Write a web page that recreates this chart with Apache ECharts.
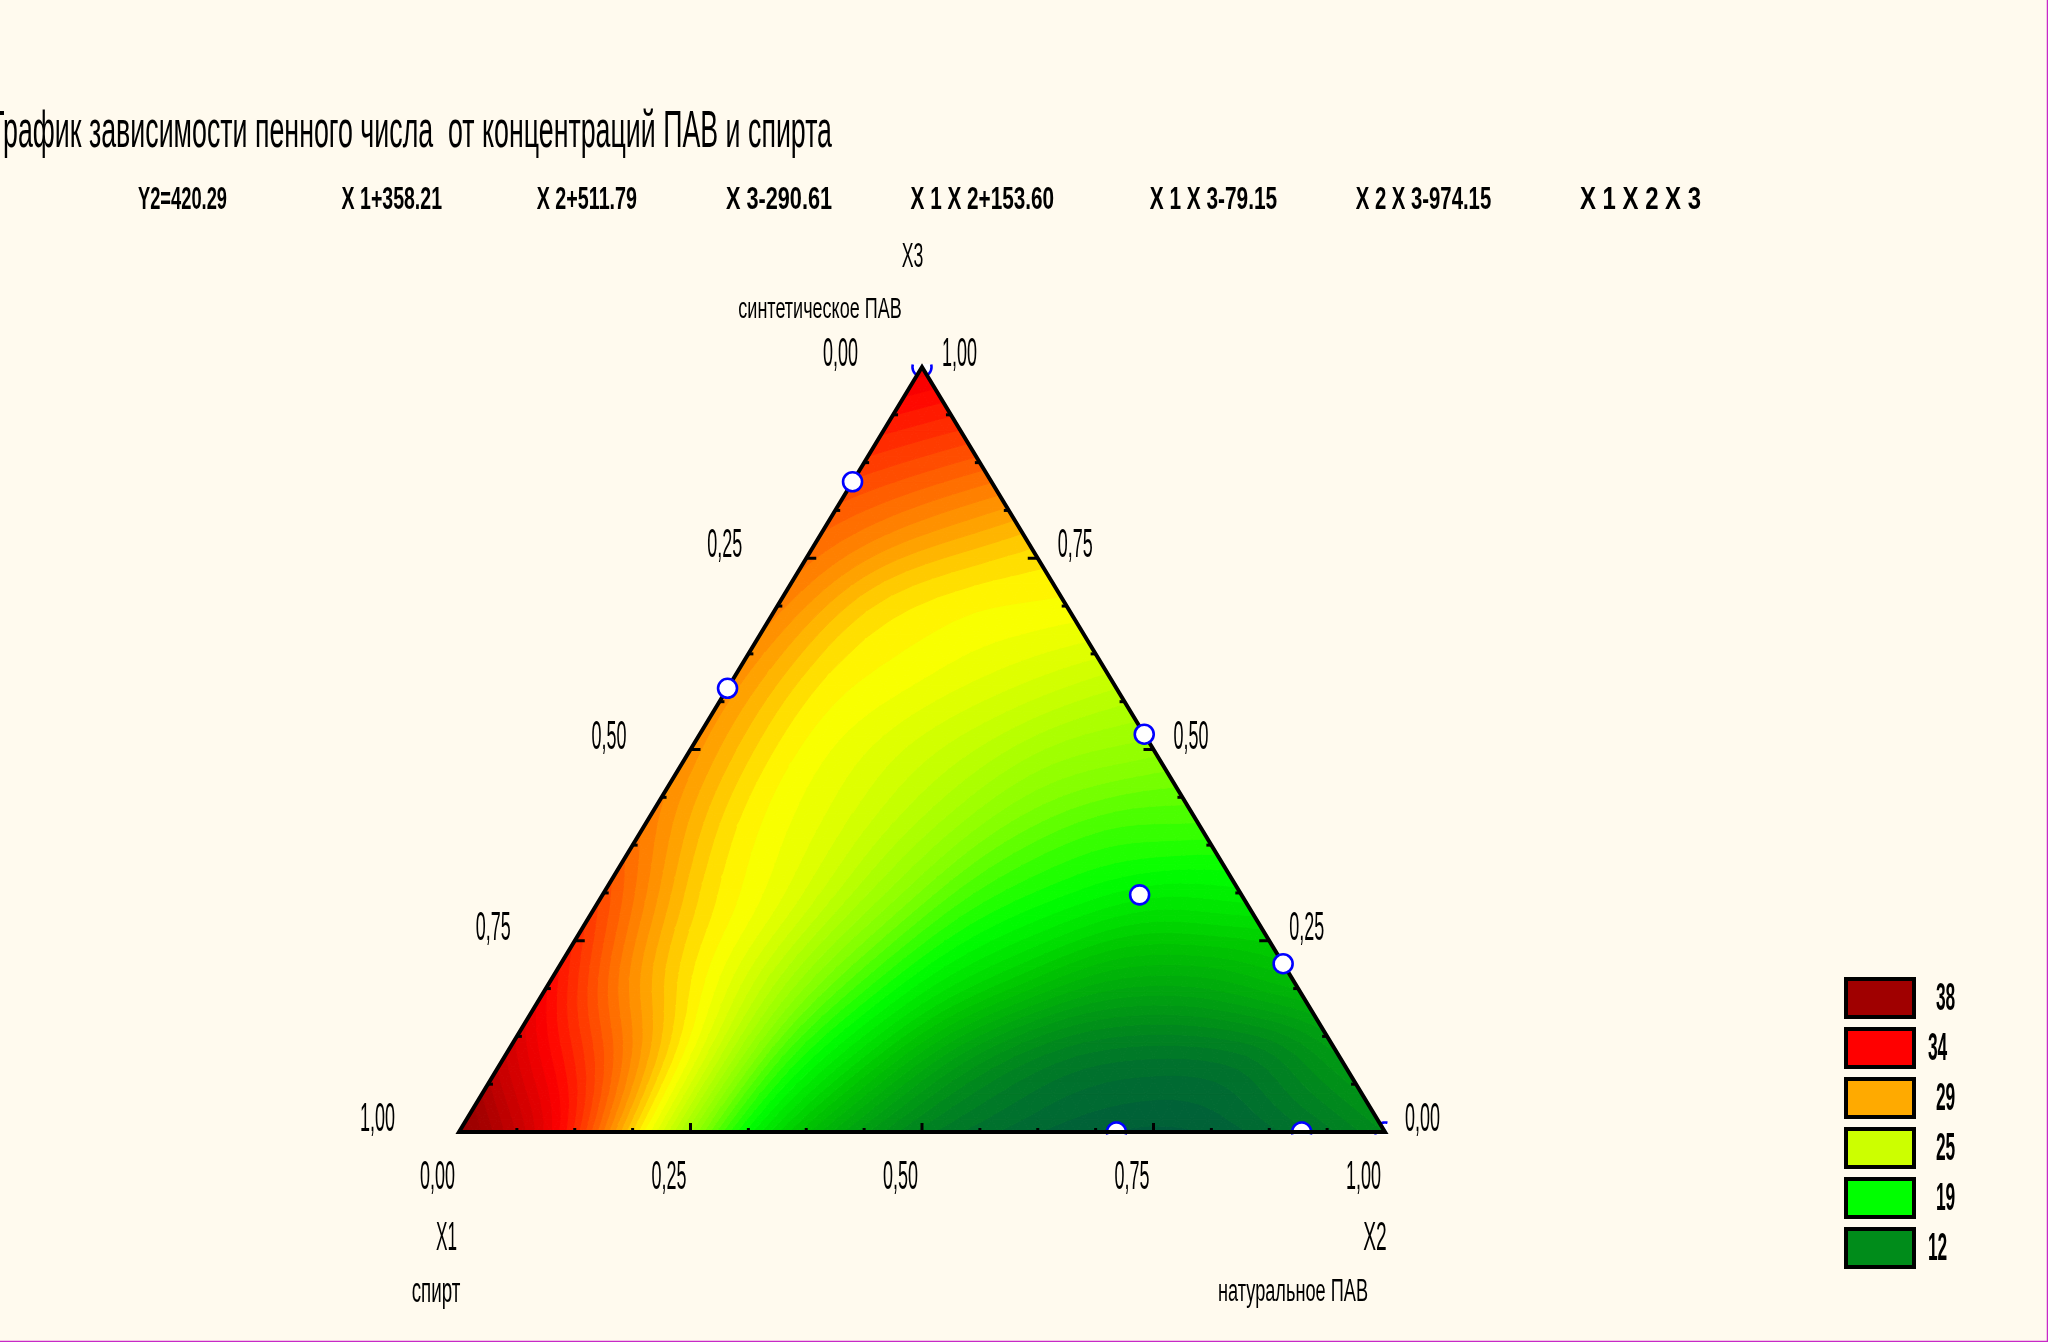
<!DOCTYPE html>
<html>
<head>
<meta charset="utf-8">
<script src="https://cdn.jsdelivr.net/npm/echarts@6/dist/echarts.min.js"></script>
<style>
html,body{margin:0;padding:0;background:#fffaee;}
#c{width:2048px;height:1342px;}
</style>
</head>
<body>
<div id="c"></div>
<script>
// ---------------- DATA ----------------
const titleText = 'График зависимости пенного числа  от концентраций ПАВ и спирта';
const equationTerms = ['Y2=420.29', 'X 1+358.21', 'X 2+511.79', 'X 3-290.61', 'X 1 X 2+153.60', 'X 1 X 3-79.15', 'X 2 X 3-974.15', 'X 1 X 2 X 3'];
const tickValues = [0, 0.25, 0.5, 0.75, 1];
const tickLabels = ['0,00', '0,25', '0,50', '0,75', '1,00'];
const axisNames = ['X1', 'X2', 'X3'];
const componentNames = ['спирт', 'натуральное ПАВ', 'синтетическое ПАВ'];
const legendValues = [38, 34, 29, 25, 19, 12];

// Foam number on a 0.1 mixture grid.
// One row per X3 level (0 ... 1); inside a row X2 = 0, 0.1, ...; X1 = 1 - X2 - X3.
const resp_x3_00 = [39.0, 34.5, 27.0, 19.5, 14.6, 11.3, 9.8, 9.0, 9.0, 10.2, 12.0];
const resp_x3_01 = [36.0, 31.8, 26.5, 20.5, 16.6, 13.2, 11.2, 10.6, 11.0, 13.0];
const resp_x3_02 = [33.8, 29.3, 25.8, 21.8, 18.6, 16.4, 14.6, 14.4, 15.4];
const resp_x3_03 = [32.0, 28.2, 25.9, 23.0, 20.3, 18.8, 17.8, 18.0];
const resp_x3_04 = [30.4, 27.5, 25.8, 23.8, 21.8, 20.6, 20.4];
const resp_x3_05 = [29.8, 27.3, 25.9, 24.6, 23.3, 22.7];
const resp_x3_06 = [29.8, 27.5, 26.6, 25.8, 25.0];
const resp_x3_07 = [30.3, 28.2, 27.3, 27.0];
const resp_x3_08 = [31.2, 30.0, 29.0];
const resp_x3_09 = [32.8, 32.0];
const resp_x3_10 = [34.8];

// Experimental design points (mixture fractions)
const pointsX1 = [0.15, 0.42, 0.00, 0.11, 0.00, 0.29, 0.09];
const pointsX2 = [0.00, 0.00, 0.48, 0.58, 0.78, 0.71, 0.91];
const pointsX3 = [0.85, 0.58, 0.52, 0.31, 0.22, 0.00, 0.00];
const vertexPointsX1 = [0, 0];
const vertexPointsX2 = [0, 1];
const vertexPointsX3 = [1, 0];

// ---------------- STYLE ----------------
const FONT = '"Liberation Sans", Arial, "DejaVu Sans", sans-serif';
const BG = '#fffaee';
const legendColors = ['#a00000', '#ff0000', '#ffaa00', '#ccff00', '#00ff00', '#008c1a'];
const colorStops = [
  [6, '#003f44'], [9, '#005e3a'], [12, '#008c1a'], [16, '#00c400'], [19, '#00ff00'],
  [22, '#80ff00'], [25, '#ccff00'], [27, '#ffff00'], [29, '#ffaa00'], [31.5, '#ff5500'],
  [34, '#ff0000'], [38, '#a00000'], [42, '#800000']
];
const BAND = 0.5;   // contour step
const SUB = 6;      // drawing subdivisions per grid triangle

function hexToRgb(h) { return [parseInt(h.substr(1, 2), 16), parseInt(h.substr(3, 2), 16), parseInt(h.substr(5, 2), 16)]; }
const stopRgb = colorStops.map(s => [s[0], hexToRgb(s[1])]);
function colorAt(v) {
  v = Math.max(stopRgb[0][0], Math.min(stopRgb[stopRgb.length - 1][0], v));
  for (let i = 0; i < stopRgb.length - 1; i++) {
    const a = stopRgb[i], b = stopRgb[i + 1];
    if (v >= a[0] && v <= b[0]) {
      const t = (v - a[0]) / (b[0] - a[0]);
      const c = a[1].map((x, k) => Math.round(x + t * (b[1][k] - x)));
      return 'rgb(' + c.join(',') + ')';
    }
  }
  return '#000';
}

const mctx = document.createElement('canvas').getContext('2d');
function fitScale(text, size, target, weight) {
  mctx.font = (weight || 'normal') + ' ' + size + 'px ' + FONT;
  return target / mctx.measureText(text).width;
}
function txt(text, x, y, size, width, align, weight) {
  return {
    type: 'text', x: x, y: y, scaleX: fitScale(text, size, width, weight),
    style: { text: text, fontSize: size, fontFamily: FONT, fontWeight: weight || 'normal', fill: '#000', align: align || 'center', verticalAlign: 'middle' }
  };
}

// ---------------- BUILD ----------------
const responseRows = [resp_x3_00, resp_x3_01, resp_x3_02, resp_x3_03, resp_x3_04, resp_x3_05, resp_x3_06, resp_x3_07, resp_x3_08, resp_x3_09, resp_x3_10];
// ternary (X2, X3) -> cartesian (x2 + x3/2, x3)
function node(k, j) { const x3 = k / 10, x2 = j / 10; return [x2 + x3 / 2, x3, responseRows[k][j]]; }
const surfaceData = [];
for (let k = 0; k < 10; k++) {
  for (let j = 0; j <= 9 - k; j++) {
    surfaceData.push([].concat(node(k, j), node(k, j + 1), node(k + 1, j)));
    if (j <= 8 - k) surfaceData.push([].concat(node(k, j + 1), node(k + 1, j + 1), node(k + 1, j)));
  }
}
function toCart(x2s, x3s, filter) {
  const out = [];
  x2s.forEach((x2, i) => { if (!filter || filter(i)) out.push([x2 + x3s[i] / 2, x3s[i]]); });
  return out;
}
const innerPointData = toCart(pointsX2, pointsX3, i => pointsX3[i] > 0);
const basePointData = toCart(pointsX2, pointsX3, i => pointsX3[i] === 0);
const vertexPointData = toCart(vertexPointsX2, vertexPointsX3);

// ---- smooth shading between grid nodes (Catmull-Rom, for drawing only) ----
const ghost = new Map();
function gv(k, j) {
  if (k >= 0 && j >= 0 && j + k <= 10) return responseRows[k][j];
  const key = k + ',' + j;
  if (ghost.has(key)) return ghost.get(key);
  let v;
  if (j < 0) v = 2 * gv(k, j + 1) - gv(k, j + 2);
  else if (k < 0) v = 2 * gv(k + 1, j) - gv(k + 2, j);
  else if (k <= 9) v = 2 * gv(k, j - 1) - gv(k, j - 2);
  else v = 2 * gv(k - 1, j) - gv(k - 2, j);
  ghost.set(key, v);
  return v;
}
function cr(p0, p1, p2, p3, t) {
  return 0.5 * (2 * p1 + (-p0 + p2) * t + (2 * p0 - 5 * p1 + 4 * p2 - p3) * t * t + (-p0 + 3 * p1 - 3 * p2 + p3) * t * t * t);
}
function smoothValue(jf, kf) {
  jf = Math.max(0, jf); kf = Math.max(0, kf);
  const k0 = Math.min(Math.floor(kf + 1e-9), 9), tk = kf - k0;
  const j0 = Math.min(Math.floor(jf + 1e-9), 9), tj = jf - j0;
  const rv = [];
  for (let m = -1; m <= 2; m++) {
    const k = k0 + m;
    rv.push(cr(gv(k, j0 - 1), gv(k, j0), gv(k, j0 + 1), gv(k, j0 + 2), tj));
  }
  return cr(rv[0], rv[1], rv[2], rv[3], tk);
}

function clipHalf(poly, t, above) {
  const res = [];
  const n = poly.length;
  for (let i = 0; i < n; i++) {
    const A = poly[i], B = poly[(i + 1) % n];
    const ina = above ? A[2] >= t : A[2] <= t;
    const inb = above ? B[2] >= t : B[2] <= t;
    if (ina) res.push(A);
    if (ina !== inb) {
      const s = (t - A[2]) / (B[2] - A[2]);
      res.push([A[0] + s * (B[0] - A[0]), A[1] + s * (B[1] - A[1]), t]);
    }
  }
  return res;
}
function bandPolys(P, out) {
  const vs = P.map(p => p[2]);
  const vmin = Math.min.apply(null, vs), vmax = Math.max.apply(null, vs);
  const b0 = Math.floor(vmin / BAND);
  for (let b = b0; b * BAND < vmax || b === b0; b++) {
    const lo = b * BAND, hi = (b + 1) * BAND;
    let poly = clipHalf(P, lo, true);
    if (poly.length >= 3) poly = clipHalf(poly, hi, false);
    if (poly.length < 3) continue;
    const col = colorAt(lo + BAND / 2);
    out.push({ type: 'polygon', shape: { points: poly.map(p => [p[0], p[1]]) }, style: { fill: col, stroke: col, lineWidth: 1 } });
  }
}

function renderSurface(params, api) {
  const C = [0, 1, 2].map(i => [api.value(i * 3), api.value(i * 3 + 1), api.value(i * 3 + 2)]);
  const nodes = {};
  for (let a = 0; a <= SUB; a++) {
    for (let b = 0; a + b <= SUB; b++) {
      const w1 = a / SUB, w2 = b / SUB, w0 = 1 - w1 - w2;
      const X = w0 * C[0][0] + w1 * C[1][0] + w2 * C[2][0];
      const Y = w0 * C[0][1] + w1 * C[1][1] + w2 * C[2][1];
      const px = api.coord([X, Y]);
      let v;
      if (a === 0 && b === 0) v = C[0][2];
      else if (a === SUB) v = C[1][2];
      else if (b === SUB) v = C[2][2];
      else v = smoothValue(10 * (X - Y / 2), 10 * Y);
      nodes[a + '_' + b] = [px[0], px[1], v];
    }
  }
  const children = [];
  for (let a = 0; a < SUB; a++) {
    for (let b = 0; a + b < SUB; b++) {
      bandPolys([nodes[a + '_' + b], nodes[(a + 1) + '_' + b], nodes[a + '_' + (b + 1)]], children);
      if (a + b <= SUB - 2) bandPolys([nodes[(a + 1) + '_' + b], nodes[(a + 1) + '_' + (b + 1)], nodes[a + '_' + (b + 1)]], children);
    }
  }
  return { type: 'group', children: children };
}

// design point marker, cut by the plot rectangle like the original
function clipRect(poly, r) {
  const edges = [p => p[0] >= r.x0, p => p[0] <= r.x1, p => p[1] >= r.y0, p => p[1] <= r.y1];
  const inter = [
    (A, B) => { const s = (r.x0 - A[0]) / (B[0] - A[0]); return [r.x0, A[1] + s * (B[1] - A[1])]; },
    (A, B) => { const s = (r.x1 - A[0]) / (B[0] - A[0]); return [r.x1, A[1] + s * (B[1] - A[1])]; },
    (A, B) => { const s = (r.y0 - A[1]) / (B[1] - A[1]); return [A[0] + s * (B[0] - A[0]), r.y0]; },
    (A, B) => { const s = (r.y1 - A[1]) / (B[1] - A[1]); return [A[0] + s * (B[0] - A[0]), r.y1]; }
  ];
  let out = poly;
  for (let e = 0; e < 4; e++) {
    const res = [];
    for (let i = 0; i < out.length; i++) {
      const A = out[i], B = out[(i + 1) % out.length];
      const ia = edges[e](A), ib = edges[e](B);
      if (ia) res.push(A);
      if (ia !== ib) res.push(inter[e](A, B));
    }
    out = res;
    if (!out.length) break;
  }
  return out;
}
function renderPoint(params, api) {
  const c = api.coord([api.value(0), api.value(1)]);
  const tl = api.coord([0, 1]), br = api.coord([1, 0]);
  const rect = { x0: tl[0] - 4, x1: br[0] + 3, y0: tl[1] - 3, y1: br[1] + 3 };
  const R = 9.5;
  const st = { stroke: '#0000ff', lineWidth: 2.6 };
  if (c[0] - R >= rect.x0 && c[0] + R <= rect.x1 && c[1] - R >= rect.y0 && c[1] + R <= rect.y1) {
    return { type: 'circle', shape: { cx: c[0], cy: c[1], r: R }, style: { fill: '#ffffff', stroke: st.stroke, lineWidth: st.lineWidth } };
  }
  const N = 72, ring = [];
  for (let i = 0; i < N; i++) { const a = i / N * Math.PI * 2; ring.push([c[0] + R * Math.cos(a), c[1] + R * Math.sin(a)]); }
  const ch = [];
  const fillPoly = clipRect(ring, rect);
  if (fillPoly.length >= 3) ch.push({ type: 'polygon', shape: { points: fillPoly }, style: { fill: '#ffffff' } });
  const inside = p => p[0] >= rect.x0 && p[0] <= rect.x1 && p[1] >= rect.y0 && p[1] <= rect.y1;
  let start = ring.findIndex(p => !inside(p));
  if (start < 0) start = 0;
  let run = [];
  for (let k = 1; k <= N + 1; k++) {
    const p = ring[(start + k) % N];
    if (inside(p)) run.push(p);
    else { if (run.length > 1) ch.push({ type: 'polyline', shape: { points: run }, style: { fill: null, stroke: st.stroke, lineWidth: st.lineWidth } }); run = []; }
  }
  if (run.length > 1) ch.push({ type: 'polyline', shape: { points: run }, style: { fill: null, stroke: st.stroke, lineWidth: st.lineWidth } });
  return { type: 'group', children: ch };
}

function renderFrame(params, api) {
  const L = api.coord([0, 0]), R = api.coord([1, 0]), T = api.coord([0.5, 1]);
  const ch = [];
  ch.push({ type: 'polygon', shape: { points: [L, R, T] }, style: { fill: null, stroke: '#000', lineWidth: 4, lineJoin: 'miter' } });
  for (let i = 1; i < 16; i++) {
    const f = i / 16, major = i % 4 === 0;
    const len = major ? 9 : 4, lw = 3;
    const pb = api.coord([f, 0]);
    ch.push({ type: 'line', shape: { x1: pb[0], y1: pb[1], x2: pb[0], y2: pb[1] - len }, style: { stroke: '#000', lineWidth: lw } });
    const pl = api.coord([f / 2, f]);
    ch.push({ type: 'line', shape: { x1: pl[0], y1: pl[1], x2: pl[0] + len + 1, y2: pl[1] }, style: { stroke: '#000', lineWidth: lw } });
    const pr = api.coord([1 - f / 2, f]);
    ch.push({ type: 'line', shape: { x1: pr[0], y1: pr[1], x2: pr[0] - len - 1, y2: pr[1] }, style: { stroke: '#000', lineWidth: lw } });
  }
  tickValues.forEach((v, i) => {
    const lab = tickLabels[i];
    const pb = api.coord([v, 0]);
    ch.push(txt(lab, pb[0] - 21.5, pb[1] + 46, 40, 35));
    const pl = api.coord([(1 - v) / 2, 1 - v]);
    ch.push(txt(lab, pl[0] - 81.5, pl[1] - 12, 40, 35));
    const pr = api.coord([1 - v / 2, v]);
    ch.push(txt(lab, pr[0] + 37.5, pr[1] - 12, 40, 35));
  });
  ch.push(txt(axisNames[0], L[0] - 12.5, L[1] + 107, 40, 21));
  ch.push(txt(componentNames[0], L[0] - 23, L[1] + 160, 35, 48.6));
  ch.push(txt(axisNames[1], R[0] - 10, R[1] + 107, 40, 23.5));
  ch.push(txt(componentNames[1], R[0] - 92, R[1] + 160, 31, 150));
  ch.push(txt(axisNames[2], T[0] - 9.5, T[1] - 110, 35, 21.6));
  ch.push(txt(componentNames[2], T[0] - 102, T[1] - 57.5, 30, 163.4));
  return { type: 'group', children: ch };
}

// ---------------- GRAPHIC (title, equation, legend, border) ----------------
const graphics = [];
graphics.push(txt(titleText, -10, 133, 52, 842, 'left'));
const eqLeft = [138, 341.6, 536.7, 726, 910.6, 1149.7, 1355.7, 1580];
const eqWidth = [89, 100.4, 100.3, 106, 143.5, 127.5, 135.5, 121];
equationTerms.forEach((t, i) => graphics.push(txt(t, eqLeft[i], 200, 31, eqWidth[i], 'left', 'bold')));
const legendLabelDx = [0, -8, 0, 0, 0, -8];
legendValues.forEach((v, i) => {
  graphics.push({ type: 'rect', x: 1846, y: 979 + i * 50, shape: { width: 68, height: 38 }, style: { fill: legendColors[i], stroke: '#000', lineWidth: 4 } });
  graphics.push(txt(String(v), 1945.6 + legendLabelDx[i], 999.5 + i * 50, 39, 19.3, 'center', 'bold'));
});
graphics.push({ type: 'line', shape: { x1: 2047.5, y1: 0, x2: 2047.5, y2: 1342 }, style: { stroke: '#c828c8', lineWidth: 1.5 } });
graphics.push({ type: 'line', shape: { x1: 0, y1: 1341.5, x2: 2048, y2: 1341.5 }, style: { stroke: '#c828c8', lineWidth: 1.5 } });

const chart = echarts.init(document.getElementById('c'), null, { renderer: 'canvas', width: 2048, height: 1342 });
chart.setOption({
  backgroundColor: BG,
  animation: false,
  grid: { left: 459, top: 367, width: 926, height: 765, show: false },
  xAxis: { type: 'value', min: 0, max: 1, show: false },
  yAxis: { type: 'value', min: 0, max: 1, show: false },
  graphic: graphics,
  series: [
    { type: 'custom', coordinateSystem: 'cartesian2d', data: vertexPointData, z: 1, silent: true, encode: { x: 0, y: 1 }, renderItem: renderPoint },
    {
      type: 'custom', coordinateSystem: 'cartesian2d', data: surfaceData, z: 2, silent: true,
      dimensions: ['ax', 'ay', 'av', 'bx', 'by', 'bv', 'cx', 'cy', 'cv'],
      encode: { x: [0, 3, 6], y: [1, 4, 7] },
      renderItem: renderSurface
    },
    { type: 'custom', coordinateSystem: 'cartesian2d', data: basePointData, z: 3, silent: true, encode: { x: 0, y: 1 }, renderItem: renderPoint },
    { type: 'custom', coordinateSystem: 'cartesian2d', data: [[0.5, 0.5]], z: 4, silent: true, encode: { x: 0, y: 1 }, renderItem: renderFrame },
    { type: 'custom', coordinateSystem: 'cartesian2d', data: innerPointData, z: 5, silent: true, encode: { x: 0, y: 1 }, renderItem: renderPoint }
  ]
});
</script>
</body>
</html>
